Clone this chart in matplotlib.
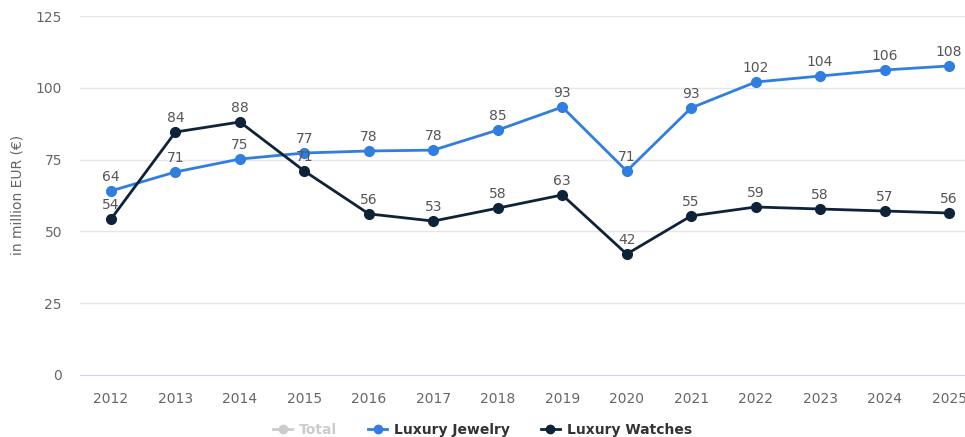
import matplotlib.pyplot as plt
from matplotlib.lines import Line2D

years = list(range(2012, 2026))
jewelry = [64.1, 70.7, 75.2, 77.3, 78.0, 78.3, 85.3, 93.3, 71.0, 93.0, 102.0, 104.1, 106.2, 107.6]
watches = [54.3, 84.6, 88.1, 71.0, 56.1, 53.6, 58.1, 62.7, 42.1, 55.4, 58.5, 57.8, 57.1, 56.4]
jewelry_labels = [64, 71, 75, 77, 78, 78, 85, 93, 71, 93, 102, 104, 106, 108]
watches_labels = [54, 84, 88, 71, 56, 53, 58, 63, 42, 55, 59, 58, 57, 56]
yticks = [0, 25, 50, 75, 100, 125]

c_jew = '#2f7ee0'
c_wat = '#0f2338'
c_lab = '#555555'

fig = plt.figure(figsize=(9.65, 4.37), dpi=100)
ax = fig.add_axes([80/965, 62/437, 885/965, 359/437])

ax.plot(years, jewelry, '-o', color=c_jew, lw=2, ms=7, zorder=3)
ax.plot(years, watches, '-o', color=c_wat, lw=2, ms=7, zorder=4)

for x, v, l in zip(years, jewelry, jewelry_labels):
    ax.annotate(str(l), (x, v), xytext=(0, 5), textcoords='offset points',
                ha='center', va='bottom', fontsize=10, color=c_lab, zorder=5)
for x, v, l in zip(years, watches, watches_labels):
    ax.annotate(str(l), (x, v), xytext=(0, 5), textcoords='offset points',
                ha='center', va='bottom', fontsize=10, color=c_lab, zorder=5)

ax.set_xlim(2011.519, 2025.248)
ax.set_ylim(0, 125)
ax.set_xticks(years)
ax.set_yticks(yticks)
ax.tick_params(axis='both', length=0, labelsize=10, labelcolor='#666666')
ax.tick_params(axis='x', pad=12)
ax.tick_params(axis='y', pad=13)
ax.grid(axis='y', color='#e6e6e6', lw=1)
ax.set_axisbelow(True)
for s in ['top', 'right', 'left']:
    ax.spines[s].set_visible(False)
ax.spines['bottom'].set_color('#ccd6eb')
fig.text(18/965, 1 - 195/437, 'in million EUR (€)', rotation=90, ha='center', va='center',
         fontsize=10, color='#666666')

handles = [
    Line2D([], [], color='#cccccc', marker='o', lw=2, ms=6),
    Line2D([], [], color=c_jew, marker='o', lw=2, ms=6),
    Line2D([], [], color=c_wat, marker='o', lw=2, ms=6),
]
leg = fig.legend(handles, ['Total', 'Luxury Jewelry', 'Luxury Watches'],
                 loc='center', bbox_to_anchor=(0.5, 7/437), ncol=3, frameon=False,
                 handlelength=1.4, columnspacing=2.2, handletextpad=0.5,
                 prop={'weight': 'bold', 'size': 10})
for t, col in zip(leg.get_texts(), ['#cccccc', '#333333', '#333333']):
    t.set_color(col)

plt.savefig('out.png', dpi=100)
